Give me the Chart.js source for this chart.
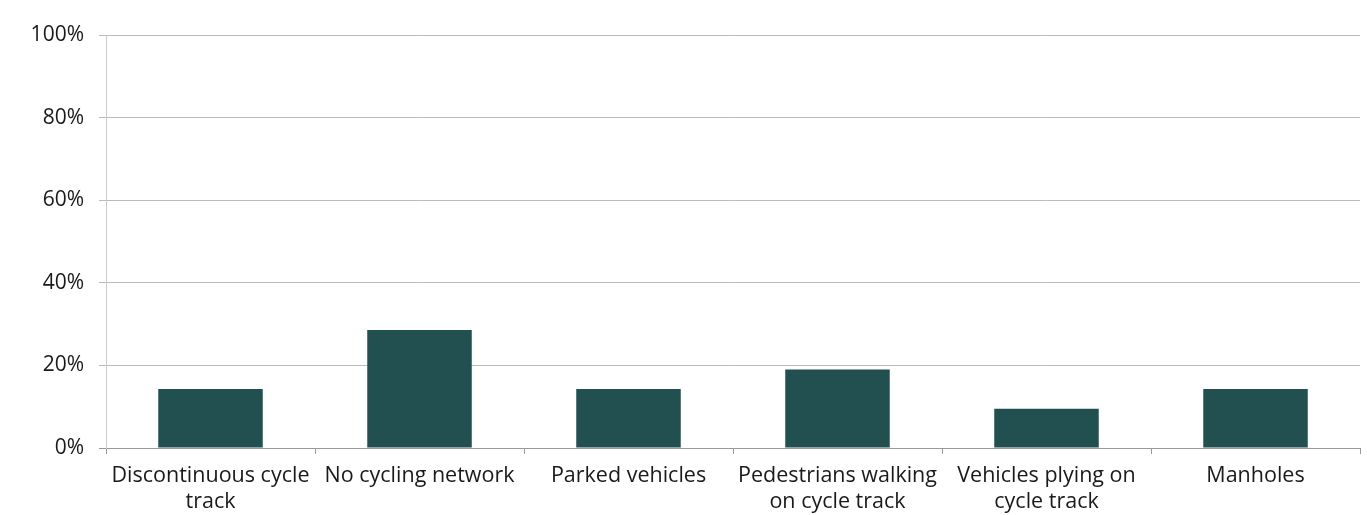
<!DOCTYPE html>
<html>
<head>
<meta charset="utf-8">
<script src="https://cdn.jsdelivr.net/npm/chart.js@4.4.1/dist/chart.umd.min.js"></script>
<style>
  html, body { margin: 0; padding: 0; background: #fff; }
  #wrap { width: 1367px; height: 515px; }
</style>
</head>
<body>
<div id="wrap"><canvas id="barrierChart"></canvas></div>
<script>
// categories (multi-line labels as in the picture)
const categories = [
  ['Discontinuous cycle', 'track'],
  'No cycling network',
  'Parked vehicles',
  ['Pedestrians walking', 'on cycle track'],
  ['Vehicles plying on', 'cycle track'],
  'Manholes'
];
// share of respondents, percent
const shares = [14.3, 28.6, 14.3, 19.0, 9.5, 14.3];
const yTicks = [0, 20, 40, 60, 80, 100];

const barColor = '#224f4f';
const textColor = '#1a1a1a';

const ctx = document.getElementById('barrierChart');
new Chart(ctx, {
  type: 'bar',
  data: {
    labels: categories,
    datasets: [{
      label: 'Share',
      data: shares,
      backgroundColor: barColor,
      borderWidth: 0,
      categoryPercentage: 1,
      barPercentage: 0.5
    }]
  },
  options: {
    responsive: true,
    maintainAspectRatio: false,
    animation: false,
    layout: { padding: { top: 35, right: 7, left: 0, bottom: 0 } },
    plugins: {
      legend: { display: false },
      tooltip: { enabled: false }
    },
    scales: {
      x: {
        grid: {
          offset: true,
          drawOnChartArea: false,
          drawTicks: true,
          tickLength: 6,
          color: '#999'
        },
        border: { display: true, color: '#999', width: 1 },
        ticks: {
          color: textColor,
          font: { family: 'Open Sans', size: 21.5, weight: 500, lineHeight: 1.25 },
          maxRotation: 0,
          autoSkip: false,
          padding: 8
        },
        afterFit: s => { s.height = 67; }
      },
      y: {
        min: 0,
        max: 100,
        afterBuildTicks: s => { s.ticks = yTicks.map(v => ({ value: v })); },
        grid: {
          color: ctx => ctx.tick && ctx.tick.value === 0 ? '#999' : '#bbb',
          tickLength: 7
        },
        border: { display: true, color: '#ccc' },
        ticks: {
          color: textColor,
          font: { family: 'Open Sans', size: 21, weight: 500 },
          padding: 15,
          callback: v => v + '%'
        },
        afterFit: s => { s.width = 106; }
      }
    }
  }
});
</script>
</body>
</html>
